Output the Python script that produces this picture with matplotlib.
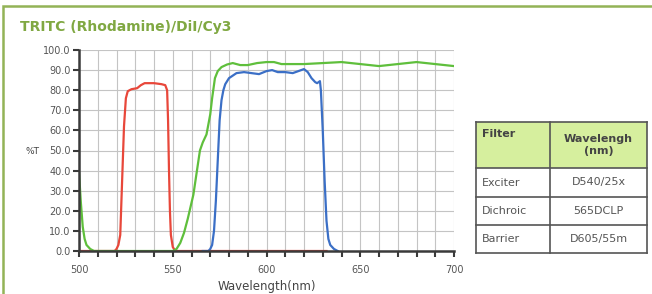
import matplotlib.pyplot as plt
from matplotlib.patches import Rectangle
from matplotlib.lines import Line2D

# Exciter (red)
ex_wl = [500, 519, 520, 521, 522, 523, 524, 525, 526, 528, 531, 533, 535, 540, 544, 546, 547,
         547.5, 548, 548.5, 549, 550, 551, 552, 632]
ex_t = [0, 0, 1, 3, 8, 35, 62, 76, 79.5, 80.5, 81, 82.5, 83.5, 83.5, 83, 82.5, 80,
        65, 40, 20, 8, 2, 0.5, 0, 0]

# Dichroic (green)
di_wl = [500, 501, 502, 503, 504, 506, 508, 550, 552, 554, 556, 558, 561, 564.5, 566, 568,
         570, 571, 572.5, 574, 576, 579, 582, 586, 590, 595, 600, 604, 608, 620, 630, 640,
         650, 660, 670, 680, 690, 700]
di_t = [39, 24, 12, 6, 3, 1, 0, 0, 1, 4, 9, 16, 28, 50, 54, 58,
        68, 76, 86, 89.5, 91.5, 92.8, 93.5, 92.5, 92.5, 93.5, 94, 94, 93, 93, 93.5, 94,
        93, 92, 93, 94, 93, 92]

# Barrier (blue)
ba_wl = [566, 569, 570, 571, 572, 573, 574, 575, 576, 577, 578, 580, 584, 588, 592, 596,
         600, 603, 606, 610, 614, 617, 620, 622, 624, 626, 627, 628.5, 629, 630, 631, 632,
         633, 634, 636, 638]
ba_t = [0, 0, 1, 3, 10, 25, 45, 65, 75, 80, 83, 86, 88.5, 89, 88.5, 88,
        89.5, 90, 89, 89, 88.5, 89.5, 90.5, 89, 86, 84, 83.5, 84.5, 80, 60, 35, 15,
        6, 3, 1, 0]

table_rows = [["Filter", "Wavelengh\n(nm)"],
              ["Exciter", "D540/25x"],
              ["Dichroic", "565DCLP"],
              ["Barrier", "D605/55m"]]

W, H = 652, 294
fig = plt.figure(figsize=(W / 100, H / 100), dpi=100)
fig.patch.set_facecolor("white")

# outer green frame (open at right and bottom)
fig.patches.append(Rectangle((3 / W, -0.1), 1.2, 1.1 - 6 / H, transform=fig.transFigure,
                             fill=False, edgecolor="#93b356", linewidth=1.8))
fig.text(20 / W, 1 - 27 / H, "TRITC (Rhodamine)/DiI/Cy3", color="#80a842",
         fontsize=10, fontweight="bold", va="center", ha="left")

ax = fig.add_axes([79 / W, 43 / H, 375 / W, 201 / H])
ax.plot(ex_wl, ex_t, color="#e8473a", lw=1.6)
ax.plot(di_wl, di_t, color="#5fbf3c", lw=1.6)
ax.plot(ba_wl, ba_t, color="#3b6fc6", lw=1.6)

ax.set_xlim(500, 700)
ax.set_ylim(0, 100)
ax.set_xticks(range(500, 701, 50))
ax.set_xticks(range(500, 701, 10), minor=True)
ax.set_yticks(range(0, 101, 10))
ax.set_yticklabels([f"{v:.1f}" for v in range(0, 101, 10)])
ax.grid(True, which="both", color="#c4c4c4", lw=0.8)
ax.set_axisbelow(True)
for s in ["top", "right"]:
    ax.spines[s].set_visible(False)
for s in ["left", "bottom"]:
    ax.spines[s].set_color("#3a3a3a")
    ax.spines[s].set_linewidth(1.8)
ax.tick_params(axis="both", which="both", direction="out", length=4, width=1.5,
               color="#3a3a3a", labelsize=7, labelcolor="#555555", pad=2)
ax.tick_params(axis="x", pad=6)
ax.set_xlabel("Wavelength(nm)", fontsize=8.5, color="#444444", labelpad=4)
fig.text(25 / W, 1 - 152 / H, "%T", fontsize=6.5, color="#444444", va="center")

# filter table
tx0, tx1, tsplit = 476 / W, 647 / W, 550 / W
ty = [1 - v / H for v in [122, 168, 197, 225, 253]]
fig.patches.append(Rectangle((tx0, ty[1]), tx1 - tx0, ty[0] - ty[1], transform=fig.transFigure,
                             facecolor="#d6ef9e", edgecolor="none"))
for y in ty:
    fig.add_artist(Line2D([tx0, tx1], [y, y], transform=fig.transFigure, color="#555555", lw=1.2))
for x in [tx0, tsplit, tx1]:
    fig.add_artist(Line2D([x, x], [ty[0], ty[-1]], transform=fig.transFigure, color="#555555", lw=1.2))
for i, (c1, c2) in enumerate(table_rows):
    if i == 0:
        fig.text(tx0 + 6 / W, ty[0] - 12 / H, c1, fontsize=8, fontweight="bold", color="#444444",
                 va="center", ha="left")
        fig.text((tsplit + tx1) / 2, (ty[0] + ty[1]) / 2, c2, fontsize=8, fontweight="bold",
                 color="#444444", va="center", ha="center", linespacing=1.3)
    else:
        ym = (ty[i] + ty[i + 1]) / 2
        fig.text(tx0 + 6 / W, ym, c1, fontsize=8, color="#555555", va="center", ha="left")
        fig.text((tsplit + tx1) / 2, ym, c2, fontsize=8, color="#555555", va="center", ha="center")

fig.savefig("out.png", dpi=100)
